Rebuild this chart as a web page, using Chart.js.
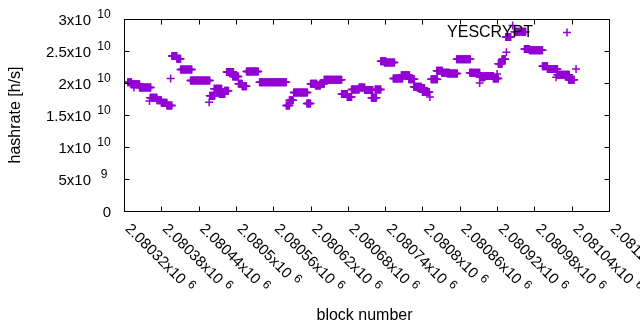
<!DOCTYPE html>
<html>
<head>
<meta charset="utf-8">
<script src="https://cdn.jsdelivr.net/npm/chart.js@4.4.1/dist/chart.umd.min.js"></script>
<style>
html,body{margin:0;padding:0;background:#fff;}
#wrap{width:640px;height:330px;}
</style>
</head>
<body>
<div id="wrap"><canvas id="c" width="640" height="330"></canvas></div>
<script>
// ---- data ----
const blockBase = 2080320;
// runs of consecutive blocks sharing (almost) the same hashrate: offsets from blockBase, rate in 1e10 h/s
const runStart = [6,12,25,42,53,60,69,77,85,91,107,138,145,153,162,165,175,184,190,197,218,261,266,273,294,300,308,315,322,350,359,366,378,387,398,404,413,419,433,446,458,466,472,480,494,503,511,520,535,556,572,580,594,602,608,614,628,644,652,673,681,697,715];
const runEnd   = [12,25,43,53,60,69,77,85,91,109,138,146,157,162,168,176,184,190,197,216,261,266,272,295,300,310,316,322,350,359,366,378,387,400,406,413,421,435,448,459,467,478,483,491,504,512,523,536,557,572,580,594,602,608,613,622,646,652,673,681,697,716,724];
const runRate  = [2.01,1.98,1.93,1.77,1.73,1.69,1.65,2.42,2.38,2.21,2.04,1.80,1.91,1.83,1.88,2.17,2.10,1.99,1.95,2.18,2.01,1.65,1.73,1.85,1.68,1.99,1.96,1.99,2.05,1.83,1.78,1.90,1.93,1.89,1.77,1.90,2.34,2.32,2.07,2.12,2.06,1.94,1.92,1.86,2.06,2.19,2.16,2.15,2.37,2.16,2.09,2.11,2.07,2.30,2.37,2.72,2.80,2.53,2.51,2.26,2.22,2.13,2.05];
// isolated blocks
const singleBlock = [16,41,75,137,492,572,600,615,625,695,727];
const singleRate  = [1.93,1.72,2.07,1.70,1.78,2.00,2.14,2.48,2.90,2.09,2.22];

const seriesName = 'YESCRYPT';
const xMin = 2080320, xMax = 2081100, xStep = 60;
const xTickMain = ['2.08032x10','2.08038x10','2.08044x10','2.0805x10','2.08056x10','2.08062x10','2.08068x10','2.08074x10','2.0808x10','2.08086x10','2.08092x10','2.08098x10','2.08104x10','2.0811x10'];
const xTickSup = '6';
const yTickValues = [0,5e9,1e10,1.5e10,2e10,2.5e10,3e10];
const yTickMain = ['0','5x10','1x10','1.5x10','2x10','2.5x10','3x10'];
const yTickSup  = ['','9','10','10','10','10','10'];
const xTitle = 'block number';
const yTitle = 'hashrate [h/s]';

// ---- build points ----
const pts = [];
for (let i = 0; i < runStart.length; i++) {
  for (let b = runStart[i]; b <= runEnd[i]; b++) pts.push({x: blockBase + b, y: runRate[i] * 1e10});
}
for (let i = 0; i < singleBlock.length; i++) pts.push({x: blockBase + singleBlock[i], y: singleRate[i] * 1e10});

const COLOR = '#9400D3';
const FAM = '"Liberation Sans", Arial, sans-serif';
const FONT = '15px ' + FAM;
const SUPFONT = '12px ' + FAM;
const TITLEFONT = '16px ' + FAM;

const decor = {
  id: 'decor',
  afterDraw(chart) {
    const ctx = chart.ctx, ca = chart.chartArea;
    const xs = chart.scales.x, ys = chart.scales.y;
    ctx.save();
    // border
    ctx.strokeStyle = '#000'; ctx.lineWidth = 1;
    const L = Math.round(ca.left) + 0.5, R = Math.round(ca.right) + 0.5, T = Math.round(ca.top) + 0.5, B = Math.round(ca.bottom) + 0.5;
    ctx.strokeRect(L, T, R - L, B - T);
    ctx.beginPath();
    yTickValues.forEach(v => {
      const y = Math.round(ys.getPixelForValue(v)) + 0.5;
      ctx.moveTo(L, y); ctx.lineTo(L + 5, y);
      ctx.moveTo(R, y); ctx.lineTo(R - 5, y);
    });
    for (let i = 0; i < xTickMain.length; i++) {
      const x = Math.round(xs.getPixelForValue(xMin + i * xStep)) + 0.5;
      ctx.moveTo(x, B); ctx.lineTo(x, B - 5);
      ctx.moveTo(x, T); ctx.lineTo(x, T + 5);
    }
    ctx.stroke();

    ctx.fillStyle = '#000';
    // y tick labels
    yTickValues.forEach((v, i) => {
      const y = ys.getPixelForValue(v);
      ctx.textBaseline = 'alphabetic';
      ctx.font = FONT;
      if (yTickSup[i]) {
        ctx.textAlign = 'right';
        ctx.fillText(yTickMain[i], 91, y + 6);
        ctx.font = SUPFONT;
        ctx.textAlign = 'center';
        ctx.fillText(yTickSup[i], 104, y - 1.5);
      } else {
        ctx.textAlign = 'right';
        ctx.fillText(yTickMain[i], 111, y + 6);
      }
    });
    // x tick labels (rotated)
    for (let i = 0; i < xTickMain.length; i++) {
      const x = xs.getPixelForValue(xMin + i * xStep);
      ctx.save();
      ctx.translate(x + 0.5, ca.bottom + 18.5);
      ctx.rotate(Math.PI / 4);
      ctx.textAlign = 'left'; ctx.textBaseline = 'alphabetic';
      ctx.font = FONT;
      ctx.fillText(xTickMain[i], 0, 0);
      const w = ctx.measureText(xTickMain[i]).width;
      ctx.font = SUPFONT;
      ctx.fillText(xTickSup, w + 5, -5);
      ctx.restore();
    }
    // titles
    ctx.font = TITLEFONT;
    ctx.textAlign = 'center'; ctx.textBaseline = 'middle';
    ctx.fillText(xTitle, (ca.left + ca.right) / 2 - 2, 316);
    ctx.save();
    ctx.translate(16, (ca.top + ca.bottom) / 2);
    ctx.rotate(-Math.PI / 2);
    ctx.fillText(yTitle, 0, 0);
    ctx.restore();
    // legend
    ctx.textAlign = 'right'; ctx.textBaseline = 'middle';
    ctx.fillText(seriesName, 533, 33);
    ctx.strokeStyle = COLOR; ctx.lineWidth = 1.5;
    ctx.beginPath();
    ctx.moveTo(563, 32.5); ctx.lineTo(571, 32.5);
    ctx.moveTo(567, 28.5); ctx.lineTo(567, 36.5);
    ctx.stroke();
    ctx.restore();
  }
};

new Chart(document.getElementById('c'), {
  type: 'scatter',
  data: {
    datasets: [{
      label: seriesName,
      data: pts,
      pointStyle: 'cross',
      pointRadius: 4,
      pointHoverRadius: 4,
      borderColor: COLOR,
      backgroundColor: COLOR,
      pointBorderWidth: 1.5,
      showLine: false
    }]
  },
  options: {
    responsive: false,
    animation: false,
    devicePixelRatio: 1,
    layout: { padding: { left: 124, top: 19, right: 31, bottom: 119 } },
    plugins: { legend: { display: false }, tooltip: { enabled: false } },
    scales: {
      x: { type: 'linear', min: xMin, max: xMax, display: false },
      y: { type: 'linear', min: 0, max: 3e10, display: false }
    }
  },
  plugins: [decor]
});
</script>
</body>
</html>
